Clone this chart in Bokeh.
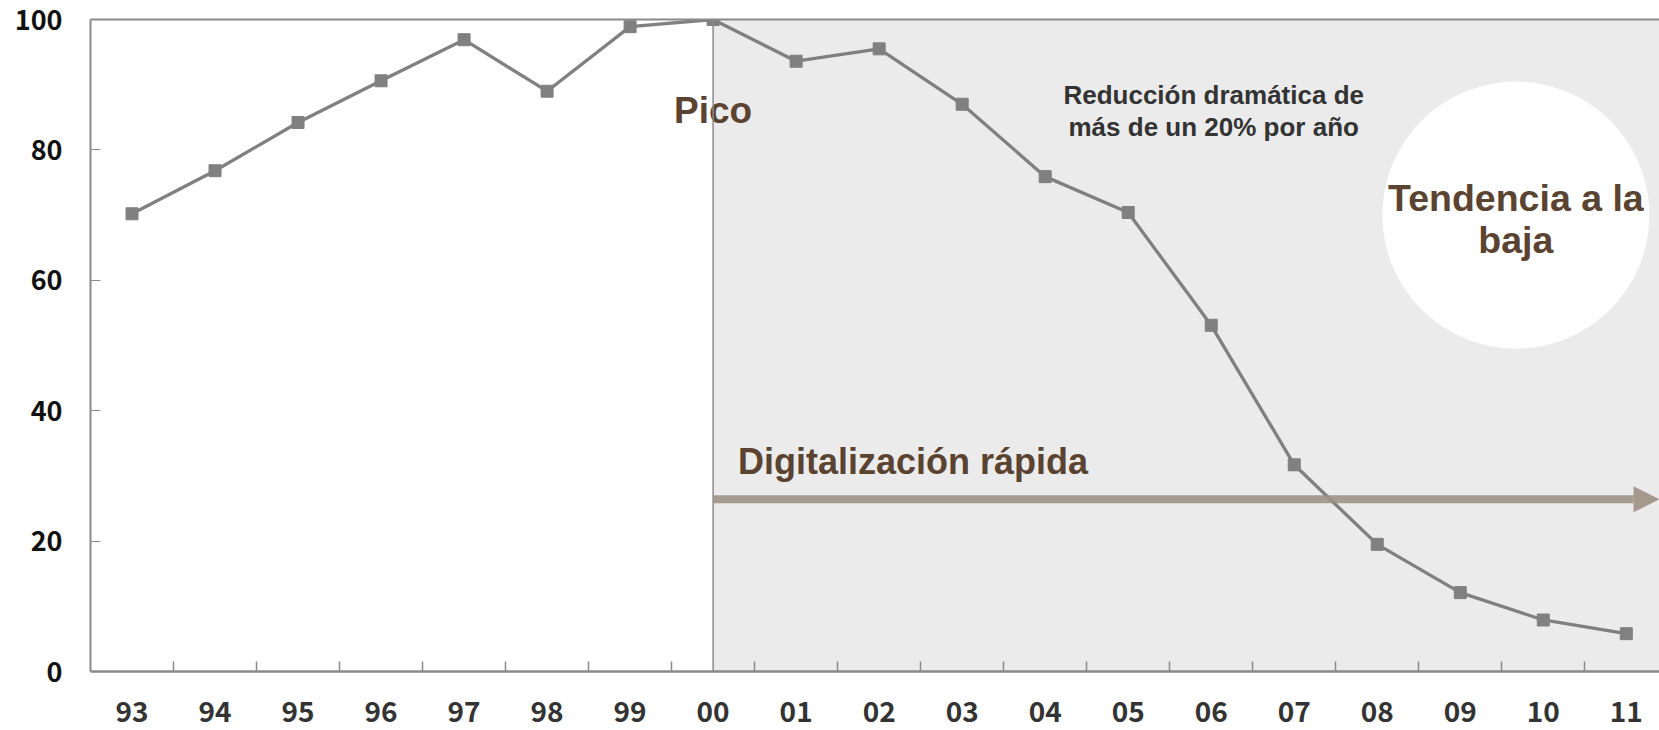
from bokeh.plotting import figure
from bokeh.models import (Range1d, FixedTicker, LinearAxis, BoxAnnotation, Span,
                          Arrow, NormalHead)
from bokeh.core.properties import value
from bokeh.embed import file_html
from bokeh.resources import INLINE

# ---- data ----
years = ["93", "94", "95", "96", "97", "98", "99", "00", "01", "02",
         "03", "04", "05", "06", "07", "08", "09", "10", "11"]
values = [70.2, 76.8, 84.2, 90.6, 96.9, 89.0, 98.9, 100.0, 93.6, 95.5,
          87.0, 75.9, 70.4, 53.1, 31.7, 19.5, 12.1, 7.9, 5.8]
y_ticks = [0, 20, 40, 60, 80, 100]

peak_label = "Pico"
drop_label = "Reducción dramática de\nmás de un 20% por año"
trend_label = "Tendencia a la\nbaja"
digital_label = "Digitalización rápida"

xs = list(range(len(years)))
peak_idx = values.index(max(values))

BROWN = "#5b4332"
AXIS = "#8a8a8a"
LINE = "#808080"

x_end = 18.4
p = figure(width=1659, height=730, output_backend="svg", toolbar_location=None,
           x_range=Range1d(-0.5, x_end), y_range=Range1d(0, 100),
           min_border_left=90, min_border_right=0, min_border_top=19,
           min_border_bottom=59, x_axis_type=None, y_axis_type=None)
p.outline_line_color = None
p.background_fill_color = "white"

# shaded digital era
box = BoxAnnotation(left=peak_idx, fill_color="#ebebeb", fill_alpha=1.0,
                    line_color=None, level="image")
p.add_layout(box)

# y axis
yaxis = LinearAxis(ticker=FixedTicker(ticks=y_ticks))
yaxis.axis_line_color = AXIS
yaxis.axis_line_width = 2
yaxis.major_tick_in = 10
yaxis.major_tick_out = 0
yaxis.major_tick_line_color = AXIS
yaxis.minor_tick_line_color = None
yaxis.major_label_standoff = 28
yaxis.major_label_text_font = "Noto Sans CJK JP"
yaxis.major_label_text_font_style = "bold"
yaxis.major_label_text_font_size = "27px"
yaxis.major_label_text_color = "#111111"
p.add_layout(yaxis, "left")

# x axis
xaxis = LinearAxis(ticker=FixedTicker(ticks=xs,
                                      minor_ticks=[i + 0.5 for i in xs]))
xaxis.major_label_overrides = {i: y for i, y in zip(xs, years)}
xaxis.axis_line_color = AXIS
xaxis.axis_line_width = 2.5
xaxis.major_tick_line_color = None
xaxis.minor_tick_line_color = AXIS
xaxis.minor_tick_line_width = 1.5
xaxis.minor_tick_in = 10
xaxis.minor_tick_out = 0
xaxis.major_label_standoff = 23
xaxis.major_label_text_font = "Noto Sans CJK JP"
xaxis.major_label_text_font_style = "bold"
xaxis.major_label_text_font_size = "28px"
xaxis.major_label_text_color = "#333333"
p.add_layout(xaxis, "below")

# top border
top = LinearAxis(ticker=FixedTicker(ticks=[]))
top.axis_line_color = AXIS
top.axis_line_width = 2
top.major_tick_line_color = None
top.minor_tick_line_color = None
top.major_label_text_font_size = "0px"
top.major_label_standoff = 0
top.major_tick_out = 0
p.add_layout(top, "above")

# grid
p.ygrid.ticker = FixedTicker(ticks=y_ticks)
p.ygrid.grid_line_color = "#b5b5b5"
p.ygrid.grid_line_dash = "1 1"
p.ygrid.grid_line_width = 1
p.xgrid.grid_line_color = None

# peak vertical line
p.add_layout(Span(location=peak_idx, dimension="height", line_color=AXIS,
                  line_width=1.5))

# circle annotation
p.circle(x=[16.67], y=[70.0], radius=133.5, radius_units="screen",
         fill_color="white", line_color=None)

# data line
p.line(xs, values, line_color=LINE, line_width=3.3)
p.scatter(xs, values, marker="square", size=12, fill_color=LINE, line_color=LINE)

# arrow
p.add_layout(Arrow(end=NormalHead(size=26, fill_color="#9d8f83", line_color="#9d8f83",
                                  fill_alpha=0.9, line_alpha=0.0),
                   x_start=peak_idx, y_start=26.4, x_end=x_end, y_end=26.4,
                   line_color="#9d8f83", line_width=8, line_alpha=0.88))

# texts
p.text(x=[peak_idx], y=[86.0], text=[peak_label], text_align="center",
       text_baseline="middle", text_font=value("Liberation Sans"),
       text_font_style="bold", text_font_size="37px", text_color=BROWN)
p.text(x=[13.03], y=[86.0], text=[drop_label], text_align="center",
       text_baseline="middle", text_font=value("Liberation Sans"),
       text_font_style="bold", text_font_size="26px", text_color="#333333",
       text_line_height=1.05)
p.text(x=[16.67], y=[69.4], text=[trend_label], text_align="center",
       text_baseline="middle", text_font=value("Liberation Sans"),
       text_font_style="bold", text_font_size="37.5px", text_color=BROWN,
       text_line_height=1.02)
p.text(x=[7.3], y=[32.2], text=[digital_label], text_align="left",
       text_baseline="alphabetic", text_font=value("Liberation Sans"),
       text_font_style="bold", text_font_size="36px", text_color=BROWN)

open("out.html", "w").write(file_html(p, INLINE))
